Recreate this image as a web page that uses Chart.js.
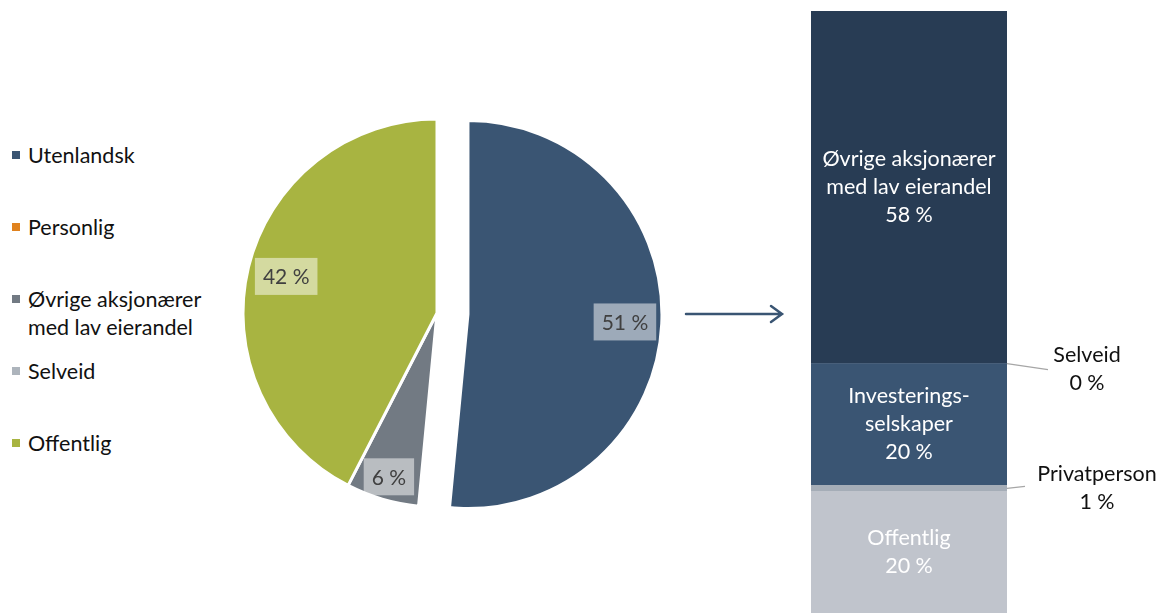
<!DOCTYPE html>
<html lang="no">
<head>
<meta charset="utf-8">
<title>Eierstruktur</title>
<script src="https://cdn.jsdelivr.net/npm/chart.js@4.4.1/dist/chart.umd.min.js"></script>
<style>
  html, body { margin: 0; padding: 0; background: #fff; width: 1166px; height: 613px; overflow: hidden; font-family: Lato, sans-serif; }
  #pieBox { position: absolute; left: 0; top: 0; width: 874px; height: 626px; }
  #barBox { position: absolute; left: 800px; top: 0; width: 366px; height: 613px; }
  #legend { position: absolute; left: 0; top: 0; }
  .item { position: absolute; left: 12px; font-size: 21.5px; line-height: 28px; color: #111; white-space: nowrap; }
  .item i { position: absolute; left: 0; top: 10px; width: 8px; height: 8px; }
  .item span { display: block; padding-left: 16px; }
</style>
</head>
<body>
<div id="legend"></div>
<div id="pieBox"><canvas id="pieChart" width="874" height="626"></canvas></div>
<div id="barBox"><canvas id="barChart" width="366" height="613"></canvas></div>
<script>
// eiere fordelt på type (kakediagram)
const ownerLabels = ['Utenlandsk', 'Personlig', 'Øvrige aksjonærer\nmed lav eierandel', 'Selveid', 'Offentlig'];
const ownerShares = [51, 0, 6, 0, 42];
const ownerColors = ['#3a5573', '#e0821e', '#727a83', '#adb4bc', '#a8b441'];

// utenlandske eiere brutt ned (stablet søyle, nedenfra og opp)
const groupLabels = ['Offentlig', 'Privatperson', 'Investerings-\nselskaper', 'Selveid', 'Øvrige aksjonærer\nmed lav eierandel'];
const groupShares = [20, 1, 20, 0, 58];
const groupColors = ['#c0c4cc', '#a5adb7', '#3a5573', '#8c96a2', '#283c54'];

// plassering av etiketter
const pieLabelRadius = [0.81, 0, 0.88, 0, 0.8];
const explodeDist = 31;
const outsideLabels = {
  1: { lineTo: [18, -2], text: [90, 0] },
  3: { lineTo: [41, 6], text: [80, 5] }
};

Chart.defaults.font.family = 'Lato, sans-serif';
Chart.defaults.font.size = 20;

const pct = v => v + ' %';

// HTML-forklaring til venstre
const legendEl = document.getElementById('legend');
ownerLabels.forEach((label, i) => {
  const item = document.createElement('div');
  item.className = 'item';
  item.style.top = (141 + 72 * i) + 'px';
  item.innerHTML = '<i style="background:' + ownerColors[i] + '"></i>' +
    label.split('\n').map(l => '<span>' + l + '</span>').join('');
  legendEl.appendChild(item);
});

// trekker ut den første sektoren
const explodePlugin = {
  id: 'explode',
  afterDatasetUpdate(chart, args) {
    const arc = args.meta.data[0];
    if (!arc) return;
    const mid = (arc.startAngle + arc.endAngle) / 2;
    arc.x += Math.cos(mid) * explodeDist;
    arc.y += Math.sin(mid) * explodeDist;
  }
};

const pieLabelPlugin = {
  id: 'pieLabels',
  afterDatasetsDraw(chart) {
    const ctx = chart.ctx;
    const meta = chart.getDatasetMeta(0);
    ctx.save();
    ctx.font = '21px Lato, sans-serif';
    ctx.textAlign = 'center';
    ctx.textBaseline = 'middle';
    meta.data.forEach((arc, i) => {
      if (!ownerShares[i]) return;
      const mid = (arc.startAngle + arc.endAngle) / 2;
      const r = arc.outerRadius * pieLabelRadius[i];
      const x = arc.x + Math.cos(mid) * r;
      const y = arc.y + Math.sin(mid) * r;
      const text = pct(ownerShares[i]);
      const w = ctx.measureText(text).width + 16;
      const h = 37;
      ctx.fillStyle = 'rgba(255,255,255,0.5)';
      ctx.fillRect(x - w / 2, y - h / 2, w, h);
      ctx.fillStyle = '#404040';
      ctx.fillText(text, x, y + 1);
    });

    // pil mot søylen
    ctx.strokeStyle = '#3a5573';
    ctx.lineWidth = 2.5;
    ctx.lineCap = 'round';
    ctx.beginPath();
    ctx.moveTo(686, 314);
    ctx.lineTo(781, 314);
    ctx.moveTo(771, 306);
    ctx.lineTo(782, 314);
    ctx.lineTo(771, 322);
    ctx.stroke();
    ctx.restore();
  }
};

new Chart(document.getElementById('pieChart'), {
  type: 'pie',
  data: {
    labels: ownerLabels,
    datasets: [{
      data: ownerShares,
      backgroundColor: ownerColors,
      borderColor: '#ffffff',
      borderWidth: 3
    }]
  },
  options: {
    responsive: false,
    animation: false,
    radius: 194,
    layout: { padding: 0 },
    plugins: { legend: { display: false }, tooltip: { enabled: false } },
    events: []
  },
  plugins: [explodePlugin, pieLabelPlugin]
});

const barLabelPlugin = {
  id: 'barLabels',
  afterDatasetsDraw(chart) {
    const ctx = chart.ctx;
    ctx.save();
    ctx.font = '21.5px Lato, sans-serif';
    ctx.textAlign = 'center';
    ctx.textBaseline = 'middle';
    chart.data.datasets.forEach((ds, i) => {
      const bar = chart.getDatasetMeta(i).data[0];
      const cy = (bar.y + bar.base) / 2;
      const lines = groupLabels[i].split('\n').concat(pct(groupShares[i]));
      const lh = 28;
      const out = outsideLabels[i];
      if (out) {
        const right = bar.x + bar.width / 2;
        ctx.strokeStyle = '#a6a6a6';
        ctx.lineWidth = 1.2;
        ctx.beginPath();
        ctx.moveTo(right, cy);
        ctx.lineTo(right + out.lineTo[0], cy + out.lineTo[1]);
        ctx.stroke();
        ctx.fillStyle = '#111111';
        const top = cy + out.text[1] - (lines.length - 1) * lh / 2;
        lines.forEach((l, k) => ctx.fillText(l, right + out.text[0], top + k * lh));
      } else {
        ctx.fillStyle = '#ffffff';
        const top = cy - (lines.length - 1) * lh / 2;
        lines.forEach((l, k) => ctx.fillText(l, bar.x, top + k * lh));
      }
    });
    ctx.restore();
  }
};

new Chart(document.getElementById('barChart'), {
  type: 'bar',
  data: {
    labels: [''],
    datasets: groupLabels.map((label, i) => ({
      label: label,
      data: [groupShares[i]],
      backgroundColor: groupColors[i],
      borderWidth: 0,
      barPercentage: 1,
      categoryPercentage: 1
    }))
  },
  options: {
    responsive: false,
    animation: false,
    layout: { padding: { left: 11, right: 159, top: 11, bottom: 0 } },
    scales: {
      x: { stacked: true, display: false },
      y: { stacked: true, display: false, min: 0, max: 99 }
    },
    plugins: { legend: { display: false }, tooltip: { enabled: false } },
    events: []
  },
  plugins: [barLabelPlugin]
});
</script>
</body>
</html>
